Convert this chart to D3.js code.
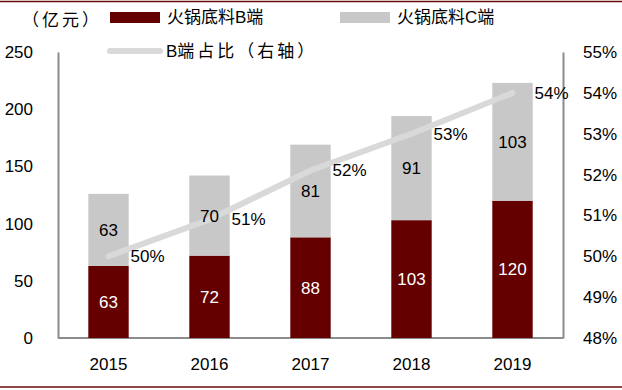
<!DOCTYPE html>
<html><head><meta charset="utf-8">
<script src="https://cdn.jsdelivr.net/npm/d3@7"></script>
<style>
html,body{margin:0;padding:0;background:#fff;}
svg text{font-family:"Liberation Sans","Noto Sans CJK SC",sans-serif;}
svg text.cjk{font-family:"Noto Sans CJK SC","Liberation Sans",sans-serif;}
</style></head>
<body><svg id="c" width="622" height="390"></svg>
<script>
const years = ["2015","2016","2017","2018","2019"];
const bValues = [63,72,88,103,120];
const cValues = [63,70,81,91,103];
const bShare = [0.500,0.509,0.521,0.530,0.540];
const shareLabels = ["50%","51%","52%","53%","54%"];
const leftTicks = [0,50,100,150,200,250];
const rightTicks = [0.48,0.49,0.50,0.51,0.52,0.53,0.54,0.55];

const svg = d3.select("#c");
const W=622,H=390;
const m={l:58,r:563,t:52,b:338};
const darkRed="#650000", grey="#C8C8C8", lineGrey="#D9D9D9", axisGrey="#8C8C8C";
const fs=17;

// border lines
svg.append("line").attr("x1",0).attr("x2",W).attr("y1",1.5).attr("y2",1.5).attr("stroke","#6B0A0A").attr("stroke-width",1.5);
svg.append("line").attr("x1",0).attr("x2",W).attr("y1",387).attr("y2",387).attr("stroke","#6B0A0A").attr("stroke-width",1.5);

const x=d3.scaleBand().domain(years).range([m.l,m.r]).paddingInner(0.6).paddingOuter(0.3);
const y=d3.scaleLinear().domain([0,250]).range([m.b,m.t]);
const y2=d3.scaleLinear().domain([0.48,0.55]).range([m.b,m.t]);

// axes
const gl=svg.append("g").attr("transform",`translate(${m.l},0)`)
 .call(d3.axisLeft(y).tickValues(leftTicks).tickSize(0).tickPadding(25));
const gr=svg.append("g").attr("transform",`translate(${m.r},0)`)
 .call(d3.axisRight(y2).tickValues(rightTicks).tickSize(0).tickPadding(20).tickFormat(d3.format(".0%")));
const gb=svg.append("g").attr("transform",`translate(0,${m.b})`)
 .call(d3.axisBottom(x).tickSize(0).tickPadding(20));
[gl,gr,gb].forEach(g=>{
  g.select(".domain").attr("stroke",axisGrey).attr("stroke-width",2);
  g.selectAll("text").attr("font-size",fs).attr("fill","#000").attr("font-family",'"Liberation Sans",sans-serif');
});
gb.select(".domain").attr("d",`M${m.l},0H${m.r}`);

// bars
const bars=svg.append("g");
bars.selectAll("rect.b").data(years).join("rect")
 .attr("x",d=>x(d)).attr("width",x.bandwidth())
 .attr("y",(d,i)=>y(bValues[i])).attr("height",(d,i)=>y(0)-y(bValues[i]))
 .attr("fill",darkRed);
bars.selectAll("rect.c").data(years).join("rect").attr("class","c")
 .attr("x",d=>x(d)).attr("width",x.bandwidth())
 .attr("y",(d,i)=>y(bValues[i]+cValues[i])).attr("height",(d,i)=>y(bValues[i])-y(bValues[i]+cValues[i]))
 .attr("fill",grey);

// line
const line=d3.line().x((d,i)=>x(years[i])+x.bandwidth()/2).y(d=>y2(d));
svg.append("path").datum(bShare).attr("d",line).attr("fill","none")
 .attr("stroke",lineGrey).attr("stroke-width",6).attr("stroke-linecap","round");

// bar labels
svg.append("g").selectAll("text").data(years).join("text")
 .attr("x",d=>x(d)+x.bandwidth()/2).attr("y",(d,i)=>y(bValues[i]/2)).attr("dy","0.35em")
 .attr("text-anchor","middle").attr("font-size",fs).attr("fill","#fff")
 .text((d,i)=>bValues[i]);
svg.append("g").selectAll("text").data(years).join("text")
 .attr("x",d=>x(d)+x.bandwidth()/2).attr("y",(d,i)=>y(bValues[i]+cValues[i]/2)).attr("dy","0.35em")
 .attr("text-anchor","middle").attr("font-size",fs).attr("fill","#000")
 .text((d,i)=>cValues[i]);
// share labels
svg.append("g").selectAll("text").data(years).join("text")
 .attr("x",d=>x(d)+x.bandwidth()/2+22).attr("y",(d,i)=>y2(bShare[i])).attr("dy","0.35em")
 .attr("font-size",fs).attr("fill","#000")
 .text((d,i)=>shareLabels[i]);

// unit
svg.append("text").attr("class","cjk").attr("x",22).attr("y",20).attr("dy","0.35em").attr("font-size",fs)
 .attr("letter-spacing",3).attr("fill","#000").text("（亿元）");

// legend
const lg=svg.append("g");
lg.append("rect").attr("x",110).attr("y",12).attr("width",50).attr("height",11).attr("fill",darkRed);
lg.append("text").attr("x",167).attr("y",17.5).attr("dy","0.35em").attr("font-size",fs).text("火锅底料B端");
lg.append("rect").attr("x",340).attr("y",12).attr("width",50).attr("height",11).attr("fill",grey);
lg.append("text").attr("x",397).attr("y",17.5).attr("dy","0.35em").attr("font-size",fs).text("火锅底料C端");
lg.append("line").attr("x1",110).attr("x2",160).attr("y1",51).attr("y2",51).attr("stroke",lineGrey).attr("stroke-width",6).attr("stroke-linecap","round");
const lt=lg.append("text").attr("x",166).attr("y",51).attr("dy","0.35em").attr("font-size",fs);
lt.append("tspan").text("B端");
lt.append("tspan").attr("dx",3).attr("letter-spacing",3).attr("font-family",'"Noto Sans CJK SC",sans-serif').text("占比（右轴）");
</script></body></html>
